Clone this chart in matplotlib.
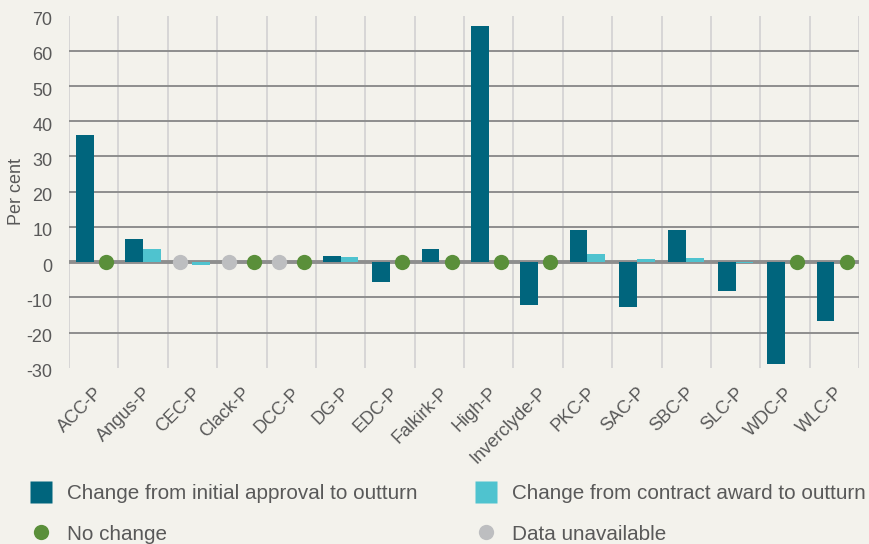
import matplotlib
matplotlib.use("Agg")
import matplotlib.pyplot as plt
import matplotlib.transforms as mtransforms
import numpy as np
from matplotlib.lines import Line2D

categories = ["ACC-P", "Angus-P", "CEC-P", "Clack-P", "DCC-P", "DG-P", "EDC-P", "Falkirk-P",
              "High-P", "Inverclyde-P", "PKC-P", "SAC-P", "SBC-P", "SLC-P", "WDC-P", "WLC-P"]
# Change from initial approval to outturn (None = data unavailable)
initial_to_outturn = [36.2, 6.6, None, None, None, 1.8, -5.6, 3.8,
                      67.1, -12.1, 9.2, -12.7, 9.2, -8.2, -28.9, -16.7]
# Change from contract award to outturn (0 = no change)
contract_to_outturn = [0, 3.8, -0.8, 0, 0, 1.5, 0, 0,
                       0, 0, 2.4, 0.9, 1.2, -0.3, 0, 0]
# status markers: 'nochange' / 'unavailable' / None
initial_status = [None, None, "unavailable", "unavailable", "unavailable", None, None, None,
                  None, None, None, None, None, None, None, None]
contract_status = ["nochange", None, None, "nochange", "nochange", None, "nochange", "nochange",
                   "nochange", "nochange", None, None, None, None, "nochange", "nochange"]

DARK = "#00657d"
LIGHT = "#4fc3cf"
GREEN = "#5a8f3a"
GREY = "#bdbec0"
BG = "#f3f2ec"
TXT = "#595959"

plt.rcParams['font.family'] = ['Liberation Sans', 'DejaVu Sans']
plt.rcParams['axes.unicode_minus'] = False

fig = plt.figure(figsize=(8.69, 5.44), dpi=100, facecolor=BG)
ax = fig.add_axes([69/869, 1-367.7/544, (859-69)/869, (367.7-15.7)/544], facecolor=BG)

x = np.arange(len(categories))
w = 0.36
off_bar = 0.18
off_dot = 0.25

for i in range(len(categories)):
    v = initial_to_outturn[i]
    if initial_status[i] is None and v is not None:
        ax.bar(x[i] - off_bar, v, width=w, color=DARK, zorder=5)
    elif initial_status[i] == "unavailable":
        ax.plot(x[i] - off_dot, 0, 'o', ms=11, color=GREY, mec='none', zorder=6)
    c = contract_to_outturn[i]
    if contract_status[i] is None:
        ax.bar(x[i] + off_bar, c, width=w, color=LIGHT, zorder=5)
    elif contract_status[i] == "nochange":
        ax.plot(x[i] + off_dot, 0, 'o', ms=11, color=GREEN, mec='none', zorder=6)

ax.set_xlim(-0.5, len(categories) - 0.5)
ax.set_ylim(-30, 70)
ax.set_yticks(np.arange(-30, 71, 10))

for yv in range(-20, 70, 10):
    if yv == 0:
        continue
    ax.axhline(yv, color="#8e8e8e", lw=1.4, zorder=1)
ax.axhline(0, color="#8e8e8e", lw=2.8, zorder=4)
for b in np.arange(-0.5, len(categories), 1):
    ax.axvline(b, color="#d4d4d4", lw=1.3, zorder=0)

for s in ax.spines.values():
    s.set_visible(False)

ax.set_xticks(x)
ax.set_xticklabels(categories, rotation=45, ha='right', rotation_mode='anchor',
                   fontsize=13, color=TXT)
ax.tick_params(axis='x', length=0, pad=12)
ax.tick_params(axis='y', length=0, pad=12, labelsize=13, labelcolor=TXT)
offset = mtransforms.ScaledTranslation(0, -3/100, fig.dpi_scale_trans)
for lab in ax.get_yticklabels():
    lab.set_transform(lab.get_transform() + offset)
ax.set_ylabel("Per cent", fontsize=13, color=TXT)
ax.yaxis.set_label_coords((25-69)/790, 0.5)

handles = [
    Line2D([], [], marker='s', ls='none', ms=16.5, color=DARK, mec='none'),
    Line2D([], [], marker='o', ls='none', ms=11, color=GREEN, mec='none'),
    Line2D([], [], marker='s', ls='none', ms=16.5, color=LIGHT, mec='none'),
    Line2D([], [], marker='o', ls='none', ms=11, color=GREY, mec='none'),
]
labels = ["Change from initial approval to outturn", "No change",
          "Change from contract award to outturn", "Data unavailable"]
leg = fig.legend(handles, labels, ncol=2, loc='upper left',
                 bbox_to_anchor=(20.5/869, 1-475.8/544), frameon=False,
                 fontsize=14.85, labelcolor=TXT, handlelength=1.2, handletextpad=0.67,
                 columnspacing=2.7, labelspacing=1.04, borderaxespad=0)

fig.savefig("out.png", dpi=100, facecolor=BG)
